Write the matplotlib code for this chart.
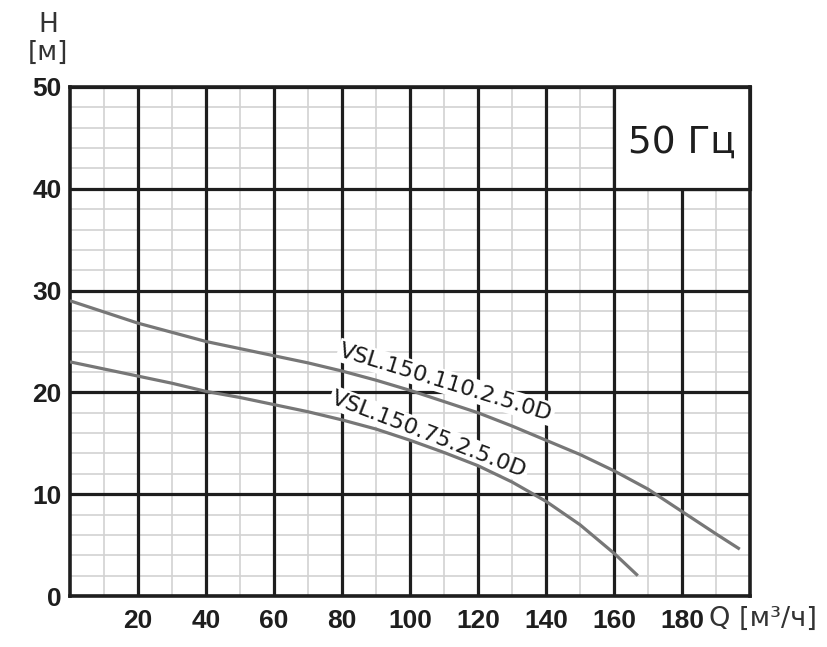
import matplotlib
matplotlib.use("Agg")
import matplotlib.pyplot as plt
from matplotlib.patches import Rectangle
from matplotlib.ticker import MultipleLocator, FixedLocator, FixedFormatter

# ---- data ----
q_110 = [0, 10, 20, 30, 40, 50, 60, 70, 80, 90, 100, 110, 120, 130, 140, 150, 160, 170, 180, 190, 197]
h_110 = [29.0, 27.9, 26.8, 25.9, 25.0, 24.3, 23.6, 22.9, 22.1, 21.2, 20.2, 19.1, 18.0, 16.7, 15.3, 13.9, 12.3, 10.5, 8.3, 6.1, 4.6]
q_75 = [0, 10, 20, 30, 40, 50, 60, 70, 80, 90, 100, 110, 120, 130, 140, 150, 160, 167]
h_75 = [23.0, 22.3, 21.6, 20.9, 20.1, 19.5, 18.8, 18.1, 17.3, 16.4, 15.3, 14.1, 12.8, 11.2, 9.3, 7.0, 4.2, 2.0]
label_110 = "VSL.150.110.2.5.0D"
label_75 = "VSL.150.75.2.5.0D"
x_ticks = [20, 40, 60, 80, 100, 120, 140, 160, 180]
x_ticklabels = ["20", "40", "60", "80", "100", "120", "140", "160", "180"]
y_ticks = [0, 10, 20, 30, 40, 50]
y_ticklabels = ["0", "10", "20", "30", "40", "50"]

fig = plt.figure(figsize=(8.28, 6.47), dpi=100)
ax = fig.add_axes([70/828, 51/647, 680/828, 509/647])
ax.set_xlim(0, 200)
ax.set_ylim(0, 50)

ax.xaxis.set_major_locator(FixedLocator(x_ticks))
ax.xaxis.set_major_formatter(FixedFormatter(x_ticklabels))
ax.xaxis.set_minor_locator(MultipleLocator(10))
ax.yaxis.set_major_locator(FixedLocator(y_ticks))
ax.yaxis.set_major_formatter(FixedFormatter(y_ticklabels))
ax.yaxis.set_minor_locator(MultipleLocator(2))

ax.set_axisbelow(True)
ax.grid(which="minor", color="#d2d2d2", linewidth=1.2)
major_color = "#1e1e1e"
for xv in x_ticks:
    ax.axvline(xv, color=major_color, linewidth=2.3, zorder=1)
for yv in y_ticks:
    ax.axhline(yv, color=major_color, linewidth=2.3, zorder=1)
for s in ax.spines.values():
    s.set_linewidth(2.6)
    s.set_color(major_color)
ax.tick_params(which="both", length=0)
ax.tick_params(axis="x", pad=9, labelsize=19, labelcolor="#1e1e1e")
ax.tick_params(axis="y", pad=6, labelsize=19, labelcolor="#1e1e1e")
for lab in ax.get_xticklabels() + ax.get_yticklabels():
    lab.set_fontfamily("Liberation Sans")
    lab.set_fontweight("bold")

# 50 Hz box
ax.add_patch(Rectangle((160, 40), 40, 10, facecolor="white", edgecolor=major_color,
                       linewidth=2.3, zorder=1.5, clip_on=False))
ax.text(180, 44.5, "50 Гц", fontsize=27, family="DejaVu Sans", color="#1e1e1e",
        ha="center", va="center", zorder=2)

# curves
ax.plot(q_110, h_110, color="#777777", linewidth=2.3, zorder=3, solid_capstyle="butt")
ax.plot(q_75, h_75, color="#777777", linewidth=2.3, zorder=3, solid_capstyle="butt")

bbox = dict(facecolor="white", edgecolor="none", pad=1.5)
ax.text(110.6, 21.0, label_110, fontsize=16, family="DejaVu Sans", color="#1a1a1a",
        rotation=-17, rotation_mode="anchor", ha="center", va="center", bbox=bbox, zorder=2.5)
ax.text(105.6, 15.9, label_75, fontsize=16, family="DejaVu Sans", color="#1a1a1a",
        rotation=-21, rotation_mode="anchor", ha="center", va="center", bbox=bbox, zorder=2.5)

# axis titles
fig.text(48/828, 1 - 25/647, "H", fontsize=19, family="DejaVu Sans", color="#333333",
         ha="center", va="center")
fig.text(48/828, 1 - 53/647, "[м]", fontsize=19, family="DejaVu Sans", color="#333333",
         ha="center", va="center")
fig.text(763/828, 1 - 619/647, "Q [м³/ч]", fontsize=19.5, family="DejaVu Sans", color="#333333",
         ha="center", va="center")

fig.savefig("out.png", dpi=100, facecolor="white")
